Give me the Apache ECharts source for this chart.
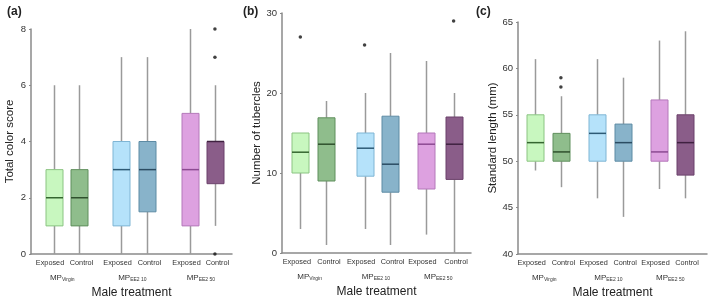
<!DOCTYPE html>
<html>
<head>
<meta charset="utf-8">
<script src="https://cdn.jsdelivr.net/npm/echarts@6/dist/echarts.min.js"></script>
<style>
  html, body { margin: 0; padding: 0; background: #fff; }
  #chart { width: 709px; height: 299px; }
</style>
</head>
<body>
<div id="chart"></div>
<script>
// box labels and treatment groups
var categories = ['Exposed', 'Control', 'Exposed', 'Control', 'Exposed', 'Control'];
var groups = ['Virgin', 'EE2 10', 'EE2 50'];

// each box: [min, Q1, median, Q3, max]
var colorScore = [[0, 1, 2, 3, 6], [0, 1, 2, 3, 6], [0, 1, 3, 4, 7], [0, 1.5, 3, 4, 7], [0, 1, 3, 5, 8], [1, 2.5, 4, 4, 6]];
var colorOutliers = [[5, 8], [5, 7], [5, 0]];          // [box index, value]

var tubercles = [[3, 10, 12.6, 15, 15], [1, 9, 13.6, 16.9, 19], [3, 9.6, 13.1, 15, 20], [1, 7.6, 11.1, 17.1, 25], [2.3, 8, 13.6, 15, 24], [0, 9.2, 13.6, 17, 20]];
var tubercleOutliers = [[0, 27], [2, 26], [5, 29]];

var lengthMm = [[49, 50, 52, 55, 61], [47.2, 50, 51, 53, 57], [46, 50, 53, 55, 61], [44, 50, 52, 54, 59], [47, 50, 51, 56.6, 63], [46, 48.5, 52, 55, 64]];
var lengthOutliers = [[1, 58], [1, 59]];

// where the boxes sit along each x axis (0..100)
var posA = [11.2, 23.9, 44.8, 57.7, 79.1, 91.5];
var posB = [9.7, 23.5, 43.7, 57.2, 76.1, 90.8];
var posC = [9.1, 22.7, 41.9, 55.4, 74.6, 88.1];

var fills   = ['#c8f7bf', '#8fbd8c', '#b5e2fa', '#88b3ca', '#dda1e0', '#8a5d89'];
var borders = ['#8bc482', '#5f8f5c', '#7fb5d4', '#5d8ba4', '#b478ba', '#6b416a'];
var medians = ['#356630', '#2f502d', '#2d5a75', '#2b4c62', '#8c4a92', '#3f2140'];

var chart = echarts.init(document.getElementById('chart'), null, { renderer: 'canvas' });
var font = "'Liberation Sans', Arial, sans-serif";

var panels = [
  { grid: { left: 31, top: 29, width: 201, height: 225 }, stats: colorScore, outliers: colorOutliers, pos: posA,
    y: { min: 0, max: 8, interval: 2 }, yName: 'Total color score', tag: '(a)', tagX: 2 },
  { grid: { left: 282, top: 13, width: 189, height: 240 }, stats: tubercles, outliers: tubercleOutliers, pos: posB,
    y: { min: 0, max: 30, interval: 10 }, yName: 'Number of tubercles', tag: '(b)', tagX: 238 },
  { grid: { left: 518, top: 22, width: 189, height: 232 }, stats: lengthMm, outliers: lengthOutliers, pos: posC,
    y: { min: 40, max: 65, interval: 5 }, yName: 'Standard length (mm)', tag: '(c)', tagX: 471 }
];

function renderBox(params, api) {
  var i = api.value(6);
  var x = api.value(0);
  var pMin = api.coord([x, api.value(1)]);
  var pQ1 = api.coord([x, api.value(2)]);
  var pMed = api.coord([x, api.value(3)]);
  var pQ3 = api.coord([x, api.value(4)]);
  var pMax = api.coord([x, api.value(5)]);
  var cx = Math.round(pMed[0]) + 0.5;
  var half = 8.5;
  return {
    type: 'group',
    children: [
      { type: 'line', shape: { x1: cx, y1: pMax[1], x2: cx, y2: pQ3[1] }, style: { stroke: '#9a9a9a', lineWidth: 1.5 } },
      { type: 'line', shape: { x1: cx, y1: pQ1[1], x2: cx, y2: pMin[1] }, style: { stroke: '#9a9a9a', lineWidth: 1.5 } },
      { type: 'rect', shape: { x: cx - half, y: pQ3[1], width: half * 2, height: pQ1[1] - pQ3[1] },
        style: { fill: fills[i], stroke: borders[i], lineWidth: 1 } },
      { type: 'line', shape: { x1: cx - half, y1: pMed[1], x2: cx + half, y2: pMed[1] },
        style: { stroke: medians[i], lineWidth: 1.5 } }
    ]
  };
}

// a bare x axis that only carries labels at the given spots
function labelAxis(k, values, names, margin, padding, extra) {
  return Object.assign({
    type: 'value', gridIndex: k, min: 0, max: 100, position: 'bottom',
    axisLine: { show: false }, axisTick: { show: false }, splitLine: { show: false },
    axisLabel: {
      customValues: values, margin: margin, fontSize: 7.3, color: '#333', fontFamily: font,
      showMinLabel: true, showMaxLabel: true, hideOverlap: false, padding: padding,
      formatter: function (v) { return names[values.indexOf(v)] || ''; }
    }
  }, extra || {});
}

var option = {
  backgroundColor: '#fff',
  animation: false,
  title: [],
  grid: [],
  xAxis: [],
  yAxis: [],
  series: []
};

panels.forEach(function (p, k) {
  var pos = p.pos;
  var exposedPos = pos.filter(function (v, i) { return i % 2 === 0; });
  var controlPos = pos.filter(function (v, i) { return i % 2 === 1; });
  var groupPos = [0, 1, 2].map(function (g) { return (pos[g * 2] + pos[g * 2 + 1]) / 2 - (g === 0 ? 2 : 0.8); });
  var groupNames = groups.map(function (g) { return '{mp|MP}{sub|' + g + '}'; });

  option.title.push({ text: p.tag, left: p.tagX, top: 1,
    textStyle: { fontSize: 12, fontWeight: 'bold', color: '#222', fontFamily: font } });
  option.grid.push(Object.assign({ outerBoundsMode: 'none', containLabel: false }, p.grid));

  // main x axis: line, "Exposed" labels and the axis name
  var main = labelAxis(k, exposedPos, exposedPos.map(function () { return categories[0]; }), 5, [0, 7, 0, 0], {
    name: 'Male treatment', nameLocation: 'middle', nameGap: 33,
    nameTextStyle: { fontSize: 12, color: '#222', fontFamily: font },
    axisLine: { show: true, lineStyle: { color: '#8a8a8a', width: 1.5 } }
  });
  option.xAxis.push(main);
  option.xAxis.push(labelAxis(k, controlPos, controlPos.map(function () { return categories[1]; }), 5, [0, 0, 0, 5]));
  var grp = labelAxis(k, groupPos, groupNames, 19, 0);
  grp.axisLabel.rich = {
    mp: { fontSize: 8, color: '#333', fontFamily: font },
    sub: { fontSize: 5, color: '#333', fontFamily: font, padding: [4, 0, 0, 0] }
  };
  option.xAxis.push(grp);

  option.yAxis.push({
    type: 'value', gridIndex: k, min: p.y.min, max: p.y.max, interval: p.y.interval,
    name: p.yName, nameLocation: 'middle', nameGap: 15, nameRotate: 90,
    nameTextStyle: { fontSize: 11.5, color: '#222', fontFamily: font },
    axisLine: { show: true, lineStyle: { color: '#8a8a8a', width: 1.5 } },
    axisTick: { show: true, length: 2, lineStyle: { color: '#8a8a8a' } },
    splitLine: { show: false },
    axisLabel: { fontSize: 9.5, color: '#333', margin: 5, fontFamily: font }
  });

  option.series.push({
    type: 'custom', xAxisIndex: k * 3, yAxisIndex: k,
    renderItem: renderBox,
    encode: { x: 0, y: [1, 2, 3, 4, 5] },
    data: p.stats.map(function (s, i) { return [pos[i]].concat(s).concat([i]); })
  });
  option.series.push({
    type: 'scatter', xAxisIndex: k * 3, yAxisIndex: k,
    symbolSize: 3.5, itemStyle: { color: '#111' },
    data: p.outliers.map(function (o) { return [pos[o[0]], o[1]]; })
  });
});

chart.setOption(option);
</script>
</body>
</html>
